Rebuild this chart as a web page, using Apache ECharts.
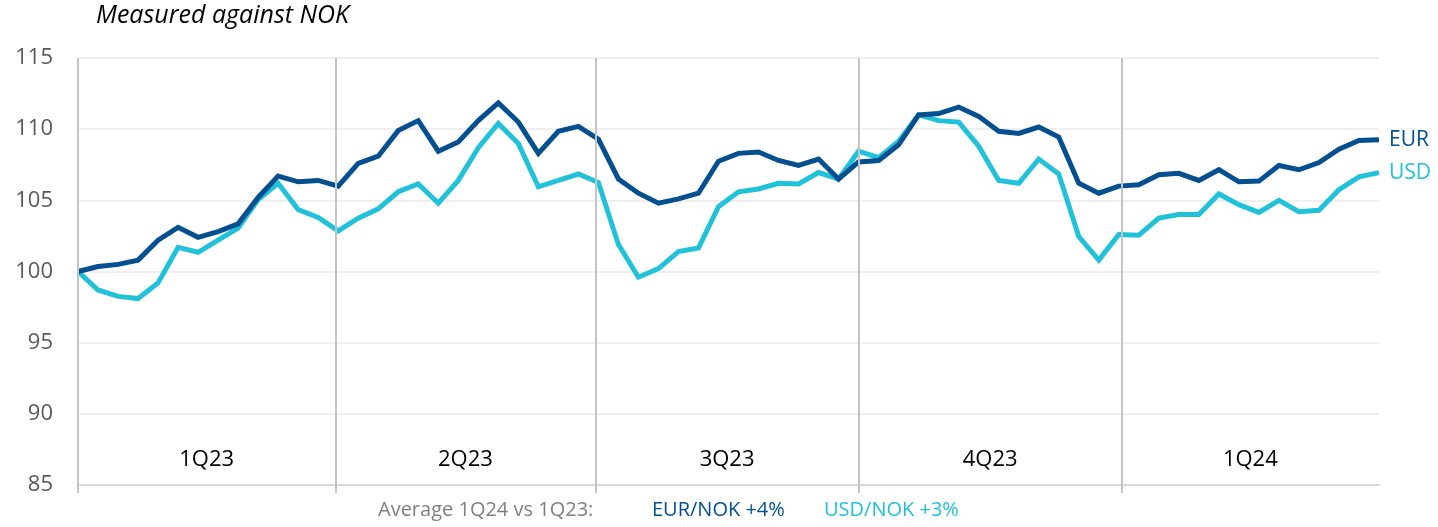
<!DOCTYPE html>
<html>
<head>
<meta charset="utf-8">
<script src="https://cdn.jsdelivr.net/npm/echarts@6/dist/echarts.min.js"></script>
<style>
  html, body { margin: 0; padding: 0; background: #ffffff; }
  #chart { width: 1438px; height: 527px; }
</style>
</head>
<body>
<div id="chart"></div>
<script>
// Weekly index values (start = 100), measured against NOK
const weeks = [
  '2023-01-01','2023-01-08','2023-01-15','2023-01-22','2023-01-29',
  '2023-02-05','2023-02-12','2023-02-19','2023-02-26',
  '2023-03-05','2023-03-12','2023-03-19','2023-03-26',
  '2023-04-02','2023-04-09','2023-04-16','2023-04-23','2023-04-30',
  '2023-05-07','2023-05-14','2023-05-21','2023-05-28',
  '2023-06-04','2023-06-11','2023-06-18','2023-06-25',
  '2023-07-02','2023-07-09','2023-07-16','2023-07-23','2023-07-30',
  '2023-08-06','2023-08-13','2023-08-20','2023-08-27',
  '2023-09-03','2023-09-10','2023-09-17','2023-09-24',
  '2023-10-01','2023-10-08','2023-10-15','2023-10-22','2023-10-29',
  '2023-11-05','2023-11-12','2023-11-19','2023-11-26',
  '2023-12-03','2023-12-10','2023-12-17','2023-12-24','2023-12-31',
  '2024-01-07','2024-01-14','2024-01-21','2024-01-28',
  '2024-02-04','2024-02-11','2024-02-18','2024-02-25',
  '2024-03-03','2024-03-10','2024-03-17','2024-03-24','2024-03-31'
];

const eurNok = [
  100.0, 100.35, 100.5, 100.8, 102.2, 103.1, 102.4, 102.8, 103.35, 105.2,
  106.7, 106.3, 106.4, 106.0, 107.6, 108.1, 109.9, 110.6, 108.45, 109.1,
  110.6, 111.85, 110.5, 108.3, 109.85, 110.2, 109.3, 106.5, 105.5, 104.8,
  105.1, 105.5, 107.75, 108.3, 108.4, 107.8, 107.45, 107.9, 106.5, 107.7,
  107.8, 108.9, 111.0, 111.1, 111.55, 110.9, 109.85, 109.7, 110.15, 109.45,
  106.2, 105.5, 106.0, 106.1, 106.8, 106.9, 106.4, 107.15, 106.3, 106.35,
  107.45, 107.15, 107.65, 108.6, 109.2, 109.25
];

const usdNok = [
  100.0, 98.7, 98.25, 98.1, 99.2, 101.7, 101.35, 102.2, 103.05, 105.05,
  106.2, 104.35, 103.8, 102.85, 103.75, 104.4, 105.6, 106.15, 104.8, 106.4,
  108.7, 110.4, 109.0, 105.95, 106.4, 106.85, 106.25, 101.9, 99.6, 100.2,
  101.4, 101.65, 104.55, 105.6, 105.8, 106.2, 106.15, 106.95, 106.5, 108.45,
  108.0, 109.15, 111.0, 110.6, 110.5, 108.8, 106.4, 106.2, 107.9, 106.85,
  102.45, 100.8, 102.6, 102.55, 103.75, 104.0, 104.0, 105.45, 104.7, 104.15,
  105.0, 104.2, 104.3, 105.75, 106.65, 106.95
];

// Quarter boundaries and their labels
const quarterStarts = ['2023-01-01', '2023-04-01', '2023-07-01', '2023-10-01', '2024-01-01'];
const axisEnd = '2024-03-31';
const quarterLabels = ['1Q23', '2Q23', '3Q23', '4Q23', '1Q24'];

const yTicks = [85, 90, 95, 100, 105, 110, 115];

const EUR_COLOR = '#034f90';
const USD_COLOR = '#21c1da';
const FONT = '"Open Sans", "Noto Sans", sans-serif';

// x positions are days elapsed since the first date
const DAY = 86400000;
const t0 = Date.UTC(2023, 0, 1);
const dayOf = s => (new Date(s + 'T00:00:00Z').getTime() - t0) / DAY;
const bounds = quarterStarts.concat([axisEnd]).map(dayOf);
const quarterMids = quarterLabels.map((_, i) => (bounds[i] + bounds[i + 1]) / 2);

const chart = echarts.init(document.getElementById('chart'), null, { renderer: 'canvas' });

chart.setOption({
  animation: false,
  backgroundColor: '#ffffff',
  grid: { left: 78, right: 59, top: 58, bottom: 42, containLabel: false },
  xAxis: {
    type: 'value',
    min: dayOf(quarterStarts[0]),
    max: dayOf(axisEnd),
    axisLine: { show: true, onZero: false, lineStyle: { color: '#d9d9d9', width: 2 } },
    axisTick: {
      show: true,
      customValues: quarterStarts.map(dayOf),
      length: 8,
      inside: false,
      lineStyle: { color: '#c4c4c4', width: 2 }
    },
    axisLabel: {
      show: true,
      inside: true,
      customValues: quarterMids,
      margin: 14,
      color: '#000000',
      fontFamily: FONT,
      fontSize: 22,
      formatter: v => {
        const i = quarterMids.findIndex(m => Math.abs(m - v) < 0.01);
        return i >= 0 ? quarterLabels[i] : '';
      }
    },
    splitLine: { show: false }
  },
  yAxis: {
    type: 'value',
    min: yTicks[0],
    max: yTicks[yTicks.length - 1],
    interval: 5,
    axisLine: { show: false },
    axisTick: { show: false },
    axisLabel: { color: '#595959', fontFamily: FONT, fontSize: 22, margin: 25 },
    splitLine: { show: true, lineStyle: { color: '#efefef', width: 2 } }
  },
  graphic: [
    {
      type: 'text', left: 96, top: 3,
      style: { text: 'Measured against NOK', fontFamily: FONT, fontStyle: 'italic', fontSize: 25, fill: '#000000' }
    },
    {
      type: 'text', left: 378, top: 500,
      style: { text: 'Average 1Q24 vs 1Q23:', fontFamily: FONT, fontSize: 20, fill: '#7f7f7f' }
    },
    {
      type: 'text', left: 652, top: 500,
      style: { text: 'EUR/NOK +4%', fontFamily: FONT, fontSize: 20, fill: EUR_COLOR }
    },
    {
      type: 'text', left: 824, top: 500,
      style: { text: 'USD/NOK +3%', fontFamily: FONT, fontSize: 20, fill: USD_COLOR }
    }
  ],
  series: [
    {
      // quarter divider lines
      name: 'quarters',
      type: 'line',
      data: [],
      z: 1,
      silent: true,
      markLine: {
        silent: true,
        symbol: ['none', 'none'],
        label: { show: false },
        lineStyle: { color: '#c4c4c4', width: 2, type: 'solid' },
        data: quarterStarts.map(d => ({ xAxis: dayOf(d) }))
      }
    },
    {
      name: 'EUR',
      type: 'line',
      z: 4,
      data: weeks.map((d, i) => [dayOf(d), eurNok[i]]),
      showSymbol: false,
      lineStyle: { color: EUR_COLOR, width: 5, join: 'miter' },
      itemStyle: { color: EUR_COLOR },
      endLabel: { show: true, formatter: '{a}', color: EUR_COLOR, fontFamily: FONT, fontSize: 21, distance: 10 }
    },
    {
      name: 'USD',
      type: 'line',
      z: 3,
      data: weeks.map((d, i) => [dayOf(d), usdNok[i]]),
      showSymbol: false,
      lineStyle: { color: USD_COLOR, width: 5, join: 'miter' },
      itemStyle: { color: USD_COLOR },
      endLabel: { show: true, formatter: '{a}', color: USD_COLOR, fontFamily: FONT, fontSize: 21, distance: 10 }
    }
  ]
});
</script>
</body>
</html>
